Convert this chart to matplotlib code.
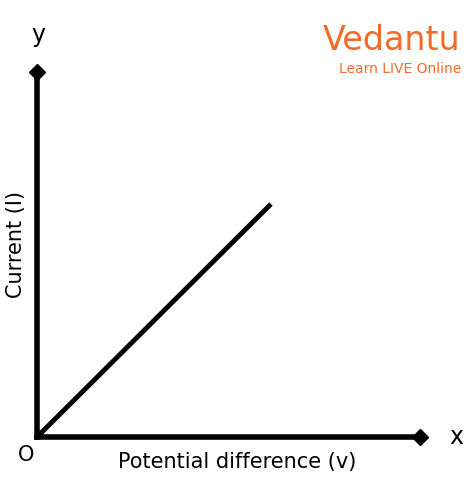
import matplotlib.pyplot as plt

# linear V-I relation (ohmic conductor), arbitrary units
voltage = [0, 10]
current = [0, 10]

W, H = 474, 486
fig = plt.figure(figsize=(W / 100, H / 100), dpi=100)
ax = fig.add_axes([37 / W, 49 / H, 383 / W, 365 / H])
ax.plot(voltage, current, color='black', lw=3.5, solid_capstyle='butt')
ax.set_xlim(0, 16.37)
ax.set_ylim(0, 15.67)
ax.set_xticks([])
ax.set_yticks([])
for s in ['top', 'right']:
    ax.spines[s].set_visible(False)
for s in ['left', 'bottom']:
    ax.spines[s].set_linewidth(4)

# arrow heads on the axes
ax.plot(1, 0, marker='D', color='black', ms=8, transform=ax.transAxes, clip_on=False)
ax.plot(0, 1, marker='D', color='black', ms=8, transform=ax.transAxes, clip_on=False)

fig.text(38 / W, 1 - 35 / H, 'y', fontsize=17, ha='center', va='center')
fig.text(456 / W, 1 - 437 / H, 'x', fontsize=17, ha='center', va='center')
fig.text(26 / W, 1 - 455 / H, 'O', fontsize=15, ha='center', va='center')
fig.text(237 / W, 1 - 462 / H, 'Potential difference (v)', fontsize=15,
         ha='center', va='center')
fig.text(16 / W, 1 - 245 / H, 'Current (I)', fontsize=15, rotation=90,
         ha='center', va='center')

# logo
fig.text(392 / W, 1 - 40 / H, 'Vedantu', fontsize=24, color='#f26b2a',
         ha='center', va='center')
fig.text(400 / W, 1 - 69 / H, 'Learn LIVE Online', fontsize=10, color='#f26b2a',
         ha='center', va='center')

fig.savefig('out.png', dpi=100)
